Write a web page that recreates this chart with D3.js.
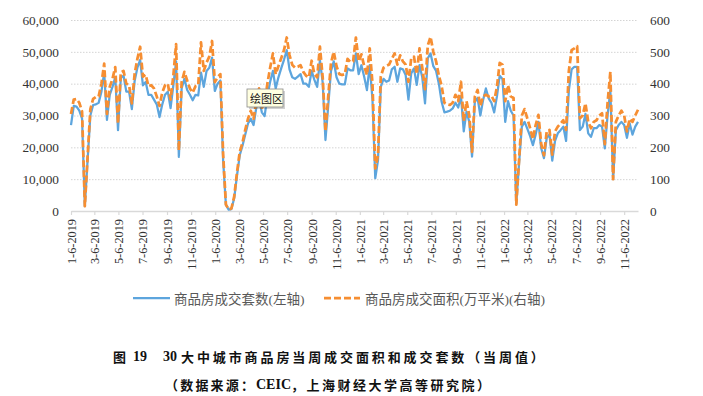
<!DOCTYPE html>
<html><head><meta charset="utf-8">
<script src="https://cdn.jsdelivr.net/npm/d3@7"></script>
<style>body{margin:0;background:#fff;} svg{display:block;}</style>
</head><body>
<svg id="c" width="703" height="396"></svg>
<script>
// ---------- data ----------
const startDate = "2019-01-06"; // first weekly observation
const units = [ // 商品房成交套数 (left axis)
27000,33000,32800,31500,29000,1500,16000,30000,33300,33500,
34000,37500,43500,28600,36500,39000,42000,25400,41800,42500,
37500,37500,32000,40800,45000,47500,39500,40500,36500,36500,
35000,33500,29500,33500,36500,37500,32300,39500,47000,17000,
38500,41500,38000,36500,34800,36500,36300,43500,39000,44000,
45000,48200,37700,40000,41000,16000,2000,400,600,4000,
11000,17500,20500,24000,27500,29000,27000,32500,35000,31000,
29800,36000,40600,44000,38500,42000,44800,47500,50500,44500,
42000,41500,42200,43000,40000,40000,39000,44000,41200,39000,
47400,40300,22300,33000,44000,47000,42000,40000,39800,39800,
44800,44200,44200,49500,43000,45800,42200,38000,45800,35000,
10300,16000,39000,41500,40600,41000,44500,45300,40600,44800,
44500,42700,35000,43200,44800,39600,45800,42000,33800,48000,
49500,45500,44000,40000,34300,31000,31200,31500,32200,34000,
32500,36000,25000,31200,28000,17100,34300,35500,30000,34900,
38500,35400,34000,31000,36000,42500,41500,28000,34500,31500,
30000,2300,15000,26500,28000,25800,23500,20700,24000,28000,
19700,16600,23000,24000,15800,22000,24400,25400,26500,22000,
38000,44500,45300,45300,25400,26500,30500,24400,23300,26000,
26000,27000,26500,19700,30000,38000,10000,25400,27000,28000,
27000,23000,27500,24000,26500,28000];
const area = [ // 商品房成交面积 万平米 (right axis)
305,350,352,340,312,15,170,320,352,358,
360,400,463,305,390,415,452,275,435,440,
400,395,338,430,478,516,422,428,392,395,
385,360,330,372,395,400,350,425,524,190,
405,437,410,385,372,392,395,530,440,466,
485,534,405,420,430,180,20,5,8,45,
120,185,215,255,290,315,290,345,385,325,
335,400,450,495,430,455,480,505,545,490,
459,450,453,458,437,425,420,472,430,420,
516,420,250,360,465,500,455,430,427,430,
478,468,470,545,470,492,455,427,511,400,
134,175,422,450,456,460,478,495,460,489,
470,460,406,478,485,430,511,450,383,520,
547,500,470,425,393,340,335,333,340,365,
345,406,282,345,300,186,359,380,330,360,
365,360,362,345,390,465,460,345,395,360,
355,20,160,300,320,290,260,226,270,302,
211,175,250,255,177,250,265,275,285,255,
440,505,511,518,291,300,338,280,260,280,
285,300,307,210,340,437,100,280,300,315,
300,250,290,280,300,318];
const leftTicks = [0,10000,20000,30000,40000,50000,60000];
const rightTicks = [0,100,200,300,400,500,600];
const xTickLabels = ["1-6-2019","3-6-2019","5-6-2019","7-6-2019","9-6-2019","11-6-2019",
"1-6-2020","3-6-2020","5-6-2020","7-6-2020","9-6-2020","11-6-2020",
"1-6-2021","3-6-2021","5-6-2021","7-6-2021","9-6-2021","11-6-2021",
"1-6-2022","3-6-2022","5-6-2022","7-6-2022","9-6-2022","11-6-2022"];
const seriesNames = ["商品房成交套数(左轴)","商品房成交面积(万平米)(右轴)"];
const captionParts = ["图", "19", "30", "大中城市商品房当周成交面积和成交套数（当周值）"];
const sourceParts = ["（数据来源：", "CEIC", "，上海财经大学高等研究院）"];
const tooltipText = "绘图区";

// ---------- drawing ----------
const svg = d3.select("#c");
const serif = "'Liberation Serif','Times New Roman','Noto Sans CJK SC',serif";
const cjk = "'Noto Sans CJK SC',sans-serif";
const blue = "#5DA5DD", orange = "#F68E32";
const t0 = d3.timeParse("%Y-%m-%d")(startDate);
const dates = units.map((_, i) => d3.timeDay.offset(t0, 7 * i));
const tickDates = xTickLabels.map(s => d3.timeParse("%m-%d-%Y")(s));

const L = 71, R = 638, T = 20, B = 211;
const x = d3.scaleTime().domain([dates[0], dates[dates.length - 1]]).range([L, R]);
const yL = d3.scaleLinear().domain([0, 60000]).range([B, T]);
const yR = d3.scaleLinear().domain([0, 600]).range([B, T]);

// grid
svg.append("g").attr("transform", `translate(${L},0)`)
  .call(d3.axisLeft(yL).tickValues(leftTicks.slice(1)).tickSize(-(R - L)).tickFormat(""))
  .call(g => g.select(".domain").remove())
  .call(g => g.selectAll("line").attr("stroke", "#d4d4d4").attr("stroke-width", 1).attr("stroke-dasharray", "1.5,1.5"));

// left axis labels
svg.append("g").attr("transform", `translate(${L},0)`)
  .call(d3.axisLeft(yL).tickValues(leftTicks).tickSize(0).tickPadding(12).tickFormat(d3.format(",")))
  .call(g => g.select(".domain").remove())
  .call(g => g.selectAll("text").attr("font-family", serif).attr("font-size", 13.3).attr("fill", "#333"));

// right axis labels
svg.append("g").attr("transform", `translate(${R},0)`)
  .call(d3.axisRight(yR).tickValues(rightTicks).tickSize(0).tickPadding(12))
  .call(g => g.select(".domain").remove())
  .call(g => g.selectAll("text").attr("font-family", serif).attr("font-size", 13.3).attr("fill", "#333"));

// x axis
svg.append("g").attr("transform", `translate(0,${B})`)
  .call(d3.axisBottom(x).tickValues(tickDates).tickSize(4).tickSizeOuter(0)
    .tickFormat((d, i) => xTickLabels[i]))
  .call(g => g.select(".domain").attr("stroke", "#d9d9d9").attr("stroke-width", 1.5))
  .call(g => g.selectAll(".tick line").attr("stroke", "#d9d9d9").attr("stroke-width", 1.2))
  .call(g => g.selectAll("text")
    .attr("transform", "rotate(-90)").attr("x", -8).attr("y", 0).attr("dy", "0.36em")
    .attr("text-anchor", "end").attr("font-family", serif).attr("font-size", 12.3).attr("fill", "#333"));

// lines
const lineL = d3.line().x((d, i) => x(dates[i])).y(d => yL(d));
const lineR = d3.line().x((d, i) => x(dates[i])).y(d => yR(d));
svg.append("path").datum(units).attr("d", lineL).attr("fill", "none")
  .attr("stroke", blue).attr("stroke-width", 2.25).attr("stroke-linejoin", "round");
svg.append("path").datum(area).attr("d", lineR).attr("fill", "none")
  .attr("stroke", orange).attr("stroke-width", 2.75).attr("stroke-dasharray", "7,3")
  .attr("stroke-linejoin", "round");

// tooltip artifact
const tip = svg.append("g").attr("transform", "translate(247,89)");
tip.append("rect").attr("x", 2).attr("y", 2).attr("width", 36).attr("height", 18).attr("fill", "rgba(0,0,0,0.18)");
tip.append("rect").attr("x", 0).attr("y", 0).attr("width", 36).attr("height", 18)
  .attr("fill", "#FFFFE1").attr("stroke", "#8a8a8a").attr("stroke-width", 0.8);
tip.append("text").attr("x", 3).attr("y", 9).attr("dominant-baseline", "central")
  .attr("font-family", cjk).attr("font-size", 11).attr("fill", "#111").text(tooltipText);

// legend
const lg = svg.append("g");
lg.append("line").attr("x1", 133).attr("x2", 170).attr("y1", 298).attr("y2", 298)
  .attr("stroke", blue).attr("stroke-width", 2.25);
lg.append("text").attr("x", 174).attr("y", 299.5).attr("dominant-baseline", "central")
  .attr("font-family", serif).attr("font-size", 13.5).attr("fill", "#595959").text(seriesNames[0]);
lg.append("line").attr("x1", 324).attr("x2", 360).attr("y1", 298).attr("y2", 298)
  .attr("stroke", orange).attr("stroke-width", 2.75).attr("stroke-dasharray", "7,3");
lg.append("text").attr("x", 365).attr("y", 299.5).attr("dominant-baseline", "central")
  .attr("font-family", serif).attr("font-size", 13.5).attr("fill", "#595959").text(seriesNames[1]);

// caption
const cap = svg.append("g").attr("font-weight", "bold").attr("fill", "#111");
const capY = 356, srcY = 384;
cap.append("text").attr("x", 113).attr("y", capY).attr("dominant-baseline", "central")
  .attr("font-family", cjk).attr("font-size", 13).text(captionParts[0]);
cap.append("text").attr("x", 133).attr("y", capY).attr("dominant-baseline", "central")
  .attr("font-family", serif).attr("font-size", 14).text(captionParts[1]);
cap.append("text").attr("x", 163).attr("y", capY).attr("dominant-baseline", "central")
  .attr("font-family", serif).attr("font-size", 14).text(captionParts[2]);
cap.append("text").attr("x", 181).attr("y", capY).attr("dominant-baseline", "central")
  .attr("font-family", cjk).attr("font-size", 13)
  .attr("letter-spacing", 2.9).text(captionParts[3]);
cap.append("text").attr("x", 165).attr("y", srcY).attr("dominant-baseline", "central")
  .attr("font-family", cjk).attr("font-size", 13)
  .attr("letter-spacing", 2.2).text(sourceParts[0]);
cap.append("text").attr("x", 256).attr("y", srcY).attr("dominant-baseline", "central")
  .attr("font-family", serif).attr("font-size", 14).text(sourceParts[1]);
cap.append("text").attr("x", 291).attr("y", srcY).attr("dominant-baseline", "central")
  .attr("font-family", cjk).attr("font-size", 13)
  .attr("letter-spacing", 2.5).text(sourceParts[2]);
</script>
</body></html>
